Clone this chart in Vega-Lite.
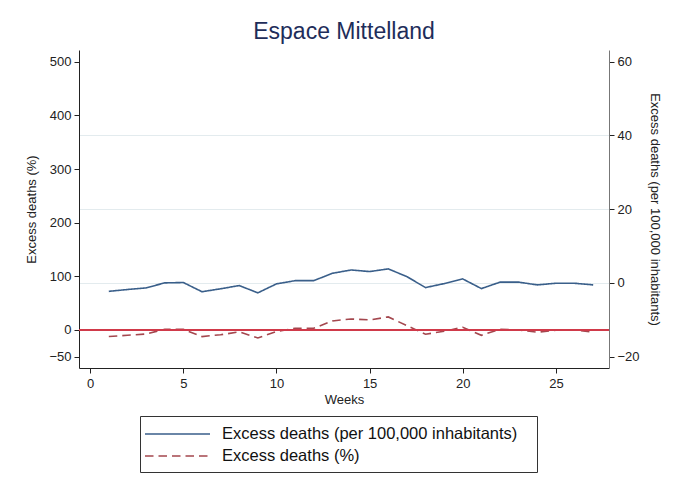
{
  "$schema": "https://vega.github.io/schema/vega-lite/v6.json",
  "autosize": "none",
  "width": 530,
  "height": 318,
  "padding": {"left": 79, "top": 50, "right": 66, "bottom": 125},
  "background": "white",
  "title": {"text": "Espace Mittelland", "font": "Liberation Sans", "fontSize": 23, "fontWeight": "normal", "color": "#1e2d5a", "anchor": "middle", "offset": 6},
  "config": {
    "view": {"stroke": null},
    "axis": {"labelFont": "Liberation Sans", "titleFont": "Liberation Sans", "labelFontSize": 13, "titleFontSize": 13, "titleFontWeight": "normal", "labelColor": "#222", "titleColor": "#222", "domainColor": "#222", "tickColor": "#222", "tickSize": 5, "grid": false},
    "legend": {"labelFont": "Liberation Sans"}
  },
  "data": {"values": [
    {"week": 1, "pct": -12.4, "per100k": -2.3},
    {"week": 2, "pct": -10.0, "per100k": -1.8},
    {"week": 3, "pct": -7.5, "per100k": -1.36},
    {"week": 4, "pct": 1.2, "per100k": 0.0},
    {"week": 5, "pct": 1.2, "per100k": 0.1},
    {"week": 6, "pct": -12.4, "per100k": -2.4},
    {"week": 7, "pct": -9.0, "per100k": -1.6},
    {"week": 8, "pct": -3.7, "per100k": -0.73},
    {"week": 9, "pct": -15.0, "per100k": -2.7},
    {"week": 10, "pct": -3.0, "per100k": -0.27},
    {"week": 11, "pct": 3.0, "per100k": 0.6},
    {"week": 12, "pct": 3.0, "per100k": 0.6},
    {"week": 13, "pct": 16.8, "per100k": 2.6},
    {"week": 14, "pct": 20.5, "per100k": 3.5},
    {"week": 15, "pct": 18.7, "per100k": 3.07},
    {"week": 16, "pct": 24.2, "per100k": 3.8},
    {"week": 17, "pct": 8.0, "per100k": 1.7},
    {"week": 18, "pct": -8.0, "per100k": -1.27},
    {"week": 19, "pct": -2.5, "per100k": -0.2},
    {"week": 20, "pct": 5.0, "per100k": 1.07},
    {"week": 21, "pct": -10.0, "per100k": -1.55},
    {"week": 22, "pct": 1.2, "per100k": 0.2},
    {"week": 23, "pct": 0.0, "per100k": 0.2},
    {"week": 24, "pct": -4.3, "per100k": -0.55},
    {"week": 25, "pct": -0.6, "per100k": -0.1},
    {"week": 26, "pct": 0.0, "per100k": -0.1},
    {"week": 27, "pct": -4.3, "per100k": -0.55}
  ]},
  "layer": [
    {
      "mark": {"type": "line", "strokeWidth": 1.6},
      "encoding": {
        "x": {"field": "week", "type": "quantitative", "scale": {"domain": [-0.6, 27.85], "nice": false, "zero": false},
          "axis": {"title": "Weeks", "values": [0, 5, 10, 15, 20, 25], "labelPadding": 4, "titlePadding": 3}},
        "y": {"field": "pct", "type": "quantitative", "scale": {"domain": [-71, 522], "nice": false, "zero": false},
          "axis": {"orient": "left", "title": "Excess deaths (%)", "values": [-50, 0, 100, 200, 300, 400, 500], "titlePadding": 10, "labelPadding": 3}},
        "color": {"datum": "Excess deaths (%)", "type": "nominal",
          "scale": {"domain": ["Excess deaths (per 100,000 inhabitants)", "Excess deaths (%)"], "range": ["#3a5f8a", "#a4474e"]},
          "legend": {"title": null, "orient": "none", "legendX": 61, "legendY": 366, "direction": "vertical", "symbolType": "M-1.3,0H5.2", "symbolSize": 400, "symbolStrokeWidth": 1.6, "labelFontSize": 16.5, "labelColor": "#111", "labelLimit": 500, "labelOffset": 53, "labelExpr": "datum.label + '\u2800'", "rowPadding": 2, "padding": 7, "strokeColor": "#333", "fillColor": "white"}},
        "strokeDash": {"datum": "Excess deaths (%)", "type": "nominal",
          "scale": {"domain": ["Excess deaths (per 100,000 inhabitants)", "Excess deaths (%)"], "range": [[1, 0], [8.5, 5]]},
          "legend": {"title": null, "orient": "none", "legendX": 61, "legendY": 366, "direction": "vertical", "symbolType": "M-1.3,0H5.2", "symbolSize": 400, "symbolStrokeWidth": 1.6, "labelFontSize": 16.5, "labelColor": "#111", "labelLimit": 500, "labelOffset": 53, "labelExpr": "datum.label + '\u2800'", "rowPadding": 2, "padding": 7, "strokeColor": "#333", "fillColor": "white"}}
      }
    },
    {
      "mark": {"type": "rule", "color": "#d03a4a", "strokeWidth": 1.3},
      "encoding": {
        "y": {"datum": 0, "type": "quantitative", "scale": {"domain": [-71, 522], "nice": false, "zero": false}, "axis": null}
      }
    },
    {
      "mark": {"type": "line", "strokeWidth": 1.6},
      "encoding": {
        "x": {"field": "week", "type": "quantitative"},
        "y": {"field": "per100k", "type": "quantitative", "scale": {"domain": [-23.1, 63.2], "nice": false, "zero": false},
          "axis": {"orient": "right", "title": "Excess deaths (per 100,000 inhabitants)", "values": [-20, 0, 20, 40, 60], "titlePadding": 8, "labelPadding": 3, "domainColor": "#777",
            "grid": true, "gridColor": "#e3ebee", "gridWidth": 1,
            "gridOpacity": {"condition": {"test": "datum.value == 0 || datum.value == 20 || datum.value == 40", "value": 1}, "value": 0}}},
        "color": {"datum": "Excess deaths (per 100,000 inhabitants)", "type": "nominal"},
        "strokeDash": {"datum": "Excess deaths (per 100,000 inhabitants)", "type": "nominal"}
      }
    }
  ],
  "resolve": {"scale": {"y": "independent"}}
}
